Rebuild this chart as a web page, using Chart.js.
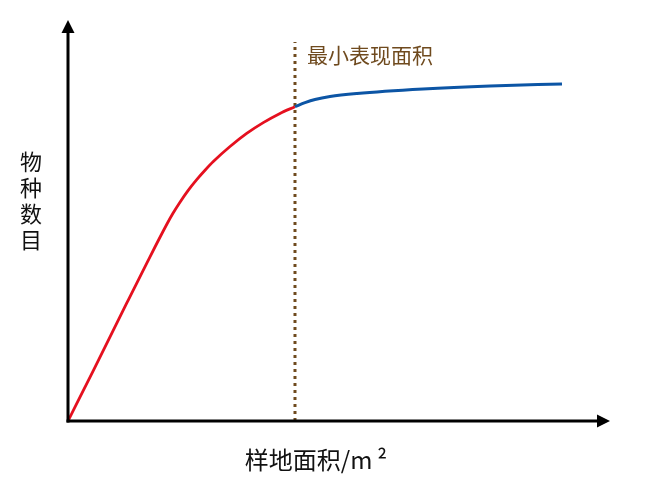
<!DOCTYPE html>
<html lang="zh">
<head>
  <meta charset="UTF-8" />
  <title>最小表现面积</title>
  <script src="https://cdn.jsdelivr.net/npm/chart.js"></script>
  <style>
    html, body { margin: 0; padding: 0; background: #fff; }
    #wrap { width: 656px; height: 479px; }
  </style>
</head>
<body>
  <div id="wrap"><canvas id="areaChart"></canvas></div>

  <script>
    // curve (area vs species count, arbitrary units)
    const redX = [0, 4.67, 10.83, 14.52, 18.21, 19.37, 20.66, 22.14, 23.75, 25.28, 26.81, 29.89, 32.97, 36.03, 39.11, 41.88];
    const redY = [0, 12.57, 29.38, 39.33, 49.0, 51.8, 54.56, 57.46, 60.2, 62.54, 64.71, 68.45, 71.72, 74.41, 76.71, 78.38];
    const blueX = [41.88, 43.73, 45.57, 48.34, 53.32, 65.5, 77.86, 91.14];
    const blueY = [78.38, 79.38, 80.17, 80.92, 81.67, 82.79, 83.54, 84.04];
    const minAreaX = 41.88;
    const minAreaTop = 94.5;
    const minAreaLabel = '最小表现面积';
    const xTitle = '样地面积/m\u2009²';
    const yTitle = ['物', '种', '数', '目'];

    const toPts = (xs, ys) => xs.map((x, i) => ({ x: x, y: ys[i] }));
    const cjk = '"Noto Sans CJK SC", "Noto Sans", sans-serif';

    const axesPlugin = {
      id: 'axesPlugin',
      afterDraw(chart) {
        const ctx = chart.ctx;
        const xs = chart.scales.x, ys = chart.scales.y;
        const x0 = xs.getPixelForValue(0), y0 = ys.getPixelForValue(0);
        const top = chart.chartArea.top, right = chart.chartArea.right;
        ctx.save();
        ctx.strokeStyle = '#000';
        ctx.fillStyle = '#000';
        ctx.lineWidth = 3;
        // y axis
        ctx.beginPath();
        ctx.moveTo(x0, y0 + 1.5);
        ctx.lineTo(x0, top + 10);
        ctx.stroke();
        ctx.beginPath();
        ctx.moveTo(x0, top);
        ctx.lineTo(x0 - 6.5, top + 13);
        ctx.lineTo(x0 + 6.5, top + 13);
        ctx.closePath();
        ctx.fill();
        // x axis
        ctx.beginPath();
        ctx.moveTo(x0 - 1.5, y0);
        ctx.lineTo(right - 10, y0);
        ctx.stroke();
        ctx.beginPath();
        ctx.moveTo(right, y0);
        ctx.lineTo(right - 13, y0 - 6.5);
        ctx.lineTo(right - 13, y0 + 6.5);
        ctx.closePath();
        ctx.fill();

        // titles
        ctx.font = '22px ' + cjk;
        ctx.textAlign = 'center';
        ctx.textBaseline = 'middle';
        ctx.fillStyle = '#111';
        yTitle.forEach((ch, i) => ctx.fillText(ch, 31, 162 + i * 26));
        ctx.font = '24px ' + cjk;
        ctx.fillText(xTitle, 316, 460);

        // min area label
        ctx.font = '21px ' + cjk;
        ctx.textAlign = 'left';
        ctx.fillStyle = '#6f4a1e';
        ctx.fillText(minAreaLabel, xs.getPixelForValue(minAreaX) + 12, 55);
        ctx.restore();
      }
    };

    new Chart(document.getElementById('areaChart'), {
      type: 'scatter',
      data: {
        datasets: [
          {
            data: [{ x: minAreaX, y: 0 }, { x: minAreaX, y: minAreaTop }],
            showLine: true,
            borderColor: '#6f4a1e',
            borderWidth: 3,
            borderDash: [3, 4],
            pointRadius: 0,
            order: 3
          },
          {
            data: toPts(redX, redY),
            showLine: true,
            borderColor: '#e5101f',
            borderWidth: 2.8,
            cubicInterpolationMode: 'monotone',
            pointRadius: 0,
            order: 2
          },
          {
            data: toPts(blueX, blueY),
            showLine: true,
            borderColor: '#0c55a5',
            borderWidth: 3,
            cubicInterpolationMode: 'monotone',
            pointRadius: 0,
            order: 1
          }
        ]
      },
      options: {
        responsive: true,
        maintainAspectRatio: false,
        animation: false,
        layout: { padding: { left: 68, right: 46, top: 20, bottom: 58 } },
        scales: {
          x: { type: 'linear', min: 0, max: 100, display: false },
          y: { type: 'linear', min: 0, max: 100, display: false }
        },
        plugins: {
          legend: { display: false },
          tooltip: { enabled: false }
        }
      },
      plugins: [axesPlugin]
    });
  </script>
</body>
</html>
